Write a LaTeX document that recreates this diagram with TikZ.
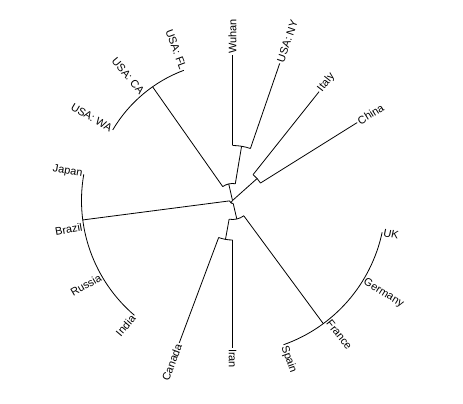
\documentclass[tikz,border=0pt]{standalone}
\usepackage{fontspec}
\setsansfont{Liberation Sans}
\begin{document}
\begin{tikzpicture}[x=0.75pt,y=0.75pt,
  branch/.style={line width=0.6pt},
  tiplabel/.style={font=\sffamily\fontsize{8.2}{9}\selectfont,inner sep=1pt}]
  \useasboundingbox (-232.5,-202.5) rectangle (230.5,200.5);
  \coordinate (root) at (0,0);

  % radial branches: name/angle/inner radius/outer radius
  \foreach \nm/\aa/\ri/\ro in {
      A/41.75/0/33, B/102.8/0/17, H/235.25/0/3,
      E/80.5/17/55, U/125.1/17/139,
      J/187.4/3/151, D/283.1/3/19,
      F/259.75/19/39.5, K/306.4/19/153,
      china/32/33/147, italy/51.5/33/139,
      ny/71/55/145, wuhan/90/55/145.5,
      canada/249.5/39.5/152, iran/270/39.5/147} {
    \coordinate (\nm-in) at (\aa:\ri);
    \coordinate (\nm) at (\aa:\ro);
    \draw[branch] (\nm-in) -- (\nm);
  }

  % tips sitting on their clade arcs
  \foreach \nm/\aa/\rr in {fl/110.5/139, ca/130/139, wa/149.5/139,
      japan/170/151, brazil/190/151, russia/210/151, india/229.5/151,
      spain/289.5/153, france/308.5/153, germany/328.5/153, uk/348/153}
    \coordinate (\nm) at (\aa:\rr);

  % arcs: start point/start angle/end angle/radius
  \foreach \from/\sa/\ea/\rr in {china-in/32/51.5/33, E-in/80.5/125.1/17,
      J-in/187.4/283.1/3, ny-in/71/90/55, fl/110.5/149.5/139,
      japan/170/229.5/151, F-in/259.75/306.4/19, canada-in/249.5/270/39.5,
      spain/289.5/348/153}
    \draw[branch] (\from) arc[start angle=\sa, end angle=\ea, radius=\rr];

  % labels, right half
  \foreach \nm/\aa/\txt in {china/32/China, italy/51.5/Italy, ny/71/USA: NY,
      wuhan/90/Wuhan, iran/270/Iran, spain/289.5/Spain, france/308.5/France,
      germany/328.5/Germany, uk/348/UK}
    \node[tiplabel,anchor=west,rotate=\aa] (lbl-\nm) at (\nm) {\txt};

  % labels, left half
  \foreach \nm/\aa/\txt in {fl/110.5/USA: FL, ca/130/USA: CA, wa/149.5/USA: WA,
      japan/170/Japan, brazil/190/Brazil, russia/210/Russia, india/229.5/India,
      canada/249.5/Canada}
    \node[tiplabel,anchor=east,rotate=\aa-180] (lbl-\nm) at (\nm) {\txt};
\end{tikzpicture}
\end{document}
